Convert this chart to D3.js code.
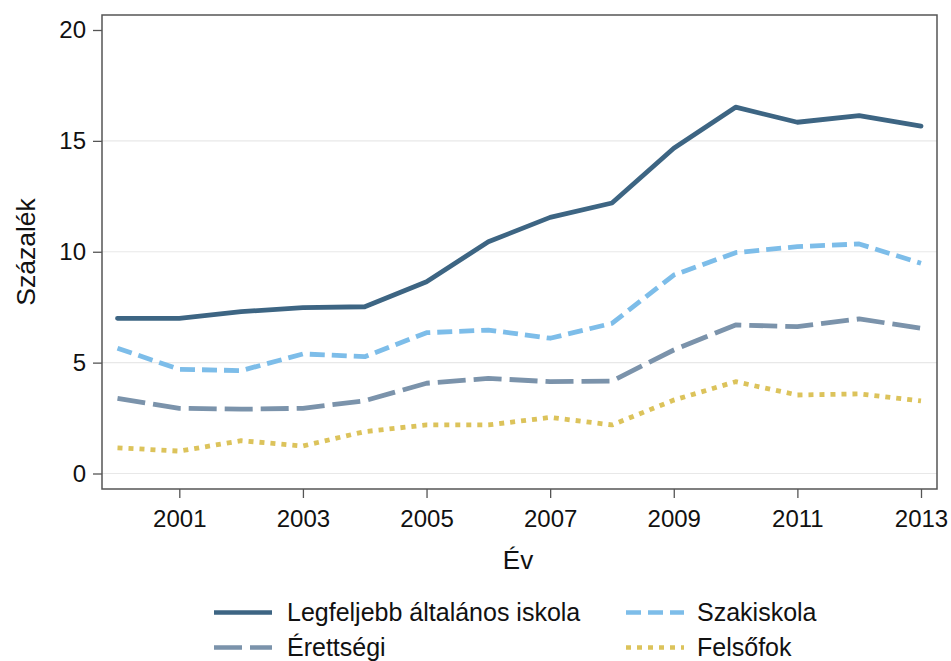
<!DOCTYPE html>
<html><head><meta charset="utf-8">
<script src="https://cdn.jsdelivr.net/npm/d3@7"></script>
<style>body{margin:0;background:#fff}text{font-family:"Liberation Sans",Arial,sans-serif;fill:#111}</style>
</head><body><svg id="c" width="951" height="661"></svg>
<script>
const years=[2000,2001,2002,2003,2004,2005,2006,2007,2008,2009,2010,2011,2012,2013];
const legfeljebb=[7.0,7.0,7.3,7.48,7.52,8.65,10.45,11.55,12.2,14.67,16.52,15.84,16.14,15.67];
const szakiskola=[5.65,4.7,4.64,5.39,5.27,6.35,6.47,6.1,6.77,8.95,9.96,10.23,10.35,9.48];
const erettsegi=[3.39,2.94,2.9,2.94,3.28,4.07,4.29,4.14,4.17,5.57,6.7,6.62,6.97,6.55];
const felsofok=[1.16,1.01,1.48,1.24,1.89,2.19,2.19,2.53,2.19,3.31,4.14,3.54,3.59,3.27];
const yTicks=[0,5,10,15,20];
const xTicks=[2001,2003,2005,2007,2009,2011,2013];
const series=[
 {name:"Legfeljebb általános iskola",values:legfeljebb,color:"#3d6583",dash:null},
 {name:"Szakiskola",values:szakiskola,color:"#7dbde9",dash:"15,7"},
 {name:"Érettségi",values:erettsegi,color:"#7b93ab",dash:"28,8"},
 {name:"Felsőfok",values:felsofok,color:"#dcc35b",dash:"5,6"}
];
const svg=d3.select("#c");
const L=102,R=937,T=15,B=489;
const x=d3.scaleLinear().domain([2000,2013]).range([117.5,921]);
const y=d3.scaleLinear().domain([0,20]).range([473.5,30]);
// grid
svg.append("g").selectAll("line").data(yTicks.filter(d=>d<20)).join("line")
 .attr("x1",L).attr("x2",R).attr("y1",d=>y(d)).attr("y2",d=>y(d))
 .attr("stroke","#e8e8e8").attr("stroke-width",1.2);
// frame
svg.append("rect").attr("x",L).attr("y",T).attr("width",R-L).attr("height",B-T)
 .attr("fill","none").attr("stroke","#555").attr("stroke-width",1.5);
// axes
const ya=svg.append("g").attr("transform",`translate(${L},0)`)
 .call(d3.axisLeft(y).tickValues(yTicks).tickSize(9).tickPadding(7));
const xa=svg.append("g").attr("transform",`translate(0,${B})`)
 .call(d3.axisBottom(x).tickValues(xTicks).tickFormat(d3.format("d")).tickSize(9).tickPadding(12));
[ya,xa].forEach(a=>{a.select(".domain").remove();a.selectAll("line").attr("stroke","#555").attr("stroke-width",1.3);
 a.selectAll("text").style("font-size","24px").attr("fill","#111").style("font-family","'Liberation Sans',Arial,sans-serif");});
// titles
svg.append("text").attr("x",518).attr("y",569).attr("text-anchor","middle").style("font-size","26px").text("Év");
svg.append("text").attr("transform","translate(35,252) rotate(-90)").attr("text-anchor","middle").style("font-size","26.5px").text("Százalék");
// lines
const line=d3.line().x((d,i)=>x(years[i])).y(d=>y(d));
svg.append("g").selectAll("path").data(series).join("path")
 .attr("d",d=>line(d.values)).attr("fill","none").attr("stroke",d=>d.color)
 .attr("stroke-width",4.8).attr("stroke-dasharray",d=>d.dash)
 .attr("stroke-linejoin","round").attr("stroke-linecap",d=>d.dash?"butt":"round");
// legend
const pos=[{x:214,y:612.5},{x:626,y:612.5},{x:214,y:647.5},{x:626,y:647.5}];
const lg=svg.append("g").selectAll("g").data(series).join("g").attr("transform",(d,i)=>`translate(${pos[i].x},${pos[i].y})`);
lg.append("line").attr("x1",0).attr("x2",58).attr("stroke",d=>d.color).attr("stroke-width",4.5).attr("stroke-dasharray",d=>d.dash);
lg.append("text").attr("x",(d,i)=>i%2?71:73).attr("dy","0.35em").style("font-size","25px").text(d=>d.name);
</script></body></html>
